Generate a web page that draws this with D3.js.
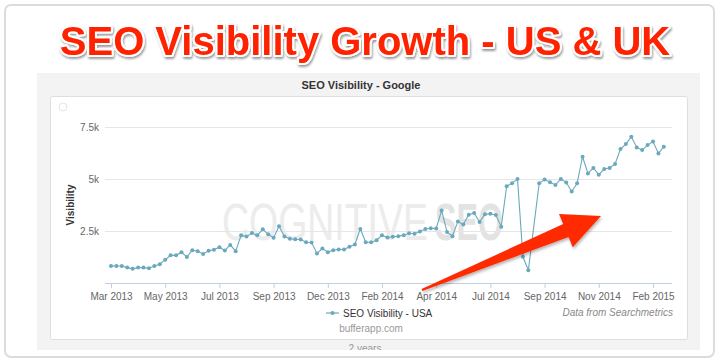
<!DOCTYPE html>
<html><head><meta charset="utf-8">
<script src="https://cdn.jsdelivr.net/npm/d3@7"></script>
<style>
html,body{margin:0;padding:0;background:#fff;}
svg{display:block;font-family:"Liberation Sans",Arial,Helvetica,sans-serif;}
</style></head><body>
<svg id="c" width="720" height="360"></svg>
<script>
// ---------- data ----------
const titleText = "SEO Visibility Growth - US & UK";
const chartTitle = "SEO Visibility - Google";
const seriesName = "SEO Visibility - USA";
const yAxisTitle = "Visibility";
const yTicks = [2500, 5000, 7500];
const yTickLabels = ["2.5k", "5k", "7.5k"];
const xTickIndex = [0, 10, 20, 30, 40, 50, 60, 70, 80, 90, 100];
const xTickLabels = ["Mar 2013", "May 2013", "Jul 2013", "Sep 2013", "Dec 2013", "Feb 2014",
                     "Apr 2014", "Jul 2014", "Sep 2014", "Nov 2014", "Feb 2015"];
// weekly values; null = week without a data point (line joins across it)
const visibilityUSA = [
  820, 820, 820, 740, 680, 740, 740, 710, 820, 900,
  1120, 1330, 1330, 1480, 1250, 1580, 1530, 1400, 1545, 1600,
  1720, 1560, 1830, 1530, 2290, 2230, 2400, 2290, 2580, 2340,
  2180, 2725, 2230, 2130, 2100, 2090, 1960, 1950, 1420, 1660,
  1480, 1580, 1610, 1610, 1740, 1850, 2600, 1960, 1960, 2060,
  2300, 2190, 2220, 2250, 2300, 2390, 2370, 2480, 2600, 2630,
  2620, 3490, 2450, 2250, 2960, 2810, 3280, 3360, 2930, 3310,
  3330, 3270, 2710, 4650, 4800, 5000, 1260, 610, null, 4795,
  4970, 4840, 4716, 5000, 4830, 4400, 4795, 6070, 5270, 5530,
  5210, 5480, 5530, 5720, 6440, 6680, 7030, 6520, 6390, 6630,
  6800, 6230, 6550
];
const footerSource = "Data from Searchmetrics";
const footerSite = "bufferapp.com";
const footerRange = "2 years";
const watermarkA = "COGNITIVE";
const watermarkB = "SEO";

// ---------- drawing ----------
const svg = d3.select("#c");
const defs = svg.append("defs");
const f1 = defs.append("filter").attr("id", "tshadow").attr("x", "-10%").attr("y", "-30%").attr("width", "120%").attr("height", "170%");
f1.append("feDropShadow").attr("dx", 1).attr("dy", 2).attr("stdDeviation", 1.3).attr("flood-color", "#000").attr("flood-opacity", 0.4);
const f2 = defs.append("filter").attr("id", "ashadow").attr("x", "-10%").attr("y", "-30%").attr("width", "120%").attr("height", "170%");
f2.append("feDropShadow").attr("dx", 1).attr("dy", 2).attr("stdDeviation", 1.5).attr("flood-color", "#000").attr("flood-opacity", 0.3);
defs.append("clipPath").attr("id", "panelclip").append("rect").attr("x", 37).attr("y", 73).attr("width", 663).attr("height", 277);

// outer frame
svg.append("rect").attr("x", 5).attr("y", 5).attr("width", 709).attr("height", 352).attr("rx", 6)
  .attr("fill", "#fff").attr("stroke", "#dcdcdc").attr("stroke-width", 2);

// grey panel
svg.append("rect").attr("x", 37).attr("y", 73).attr("width", 663).attr("height", 277).attr("fill", "#f3f3f3");

// chart title
svg.append("text").attr("x", 361).attr("y", 89).attr("text-anchor", "middle")
  .attr("font-size", 11).attr("font-weight", "bold").attr("fill", "#333").text(chartTitle);

// white chart box
svg.append("rect").attr("x", 50.5).attr("y", 96.5).attr("width", 637).attr("height", 243).attr("rx", 2)
  .attr("fill", "#fff").attr("stroke", "#dedede");

// range text, clipped by panel
svg.append("text").attr("x", 365).attr("y", 352).attr("text-anchor", "middle").attr("clip-path", "url(#panelclip)")
  .attr("font-size", 10).attr("fill", "#999").text(footerRange);

// small circle top-left
svg.append("circle").attr("cx", 63).attr("cy", 107).attr("r", 4).attr("fill", "#fff").attr("stroke", "#e4e4e4");

// watermark (two condensed parts)
svg.append("g").attr("transform", "translate(222,240) scale(0.72,1)")
  .append("text").attr("font-size", 52).attr("fill", "#ececec").text(watermarkA);
svg.append("g").attr("transform", "translate(435,240) scale(0.62,1)")
  .append("text").attr("font-size", 52).attr("font-weight", "bold").attr("fill", "#e3e3e3").text(watermarkB);

// scales
const x = d3.scaleLinear().domain([0, visibilityUSA.length - 1]).range([111, 111 + 5.42 * (visibilityUSA.length - 1)]);
const y = d3.scaleLinear().domain([0, 7500]).range([283, 127]);
const plotL = 105, plotR = 672;

// gridlines + y labels
const yAxis = d3.axisLeft(y).tickValues(yTicks).tickFormat((d, i) => yTickLabels[i]).tickSize(0).tickPadding(0);
const yg = svg.append("g").attr("transform", `translate(${plotL},0)`).call(yAxis);
yg.select(".domain").remove();
yg.selectAll(".tick line").attr("x1", 0).attr("x2", plotR - plotL).attr("stroke", "#e6e6e6");
yg.selectAll(".tick text").attr("x", -6).attr("dy", "0.32em").attr("fill", "#666").attr("font-size", 10)
  .attr("font-family", "Liberation Sans, Arial, sans-serif");

// y title
svg.append("text").attr("transform", "translate(74,205) rotate(-90)").attr("text-anchor", "middle")
  .attr("font-size", 10).attr("font-weight", "bold").attr("fill", "#333").text(yAxisTitle);

// x axis
const xAxis = d3.axisBottom(x).tickValues(xTickIndex).tickFormat((d, i) => xTickLabels[i]).tickSize(5).tickPadding(5).tickSizeOuter(0);
const xg = svg.append("g").attr("transform", "translate(0,283)").call(xAxis);
xg.select(".domain").remove();
xg.insert("line", ":first-child").attr("x1", plotL).attr("x2", plotR).attr("y1", 0.5).attr("y2", 0.5).attr("stroke", "#c0d0e0");
xg.selectAll(".tick line").attr("stroke", "#c0d0e0");
xg.selectAll(".tick text").attr("fill", "#666").attr("font-size", 10).attr("font-family", "Liberation Sans, Arial, sans-serif");

// series line + markers
const lineColor = "#6aa9bd";
const pts = visibilityUSA.map((v, i) => ({ i, v })).filter(d => d.v !== null);
const line = d3.line().x(d => x(d.i)).y(d => y(d.v));
svg.append("path").datum(pts).attr("d", line).attr("fill", "none").attr("stroke", lineColor).attr("stroke-width", 1.1);
svg.append("g").selectAll("circle").data(pts).join("circle")
  .attr("cx", d => x(d.i)).attr("cy", d => y(d.v)).attr("r", 2).attr("fill", lineColor);

// legend
const lg = svg.append("g").attr("transform", "translate(326,313)");
lg.append("line").attr("x1", 0).attr("x2", 13).attr("y1", 0).attr("y2", 0).attr("stroke", lineColor).attr("stroke-width", 1.2);
lg.append("circle").attr("cx", 6.5).attr("cy", 0).attr("r", 2).attr("fill", lineColor);
lg.append("text").attr("x", 17).attr("y", 3.5).attr("font-size", 10).attr("fill", "#333").text(seriesName);

// footers
svg.append("text").attr("x", 673).attr("y", 316).attr("text-anchor", "end").attr("font-size", 10)
  .attr("font-style", "italic").attr("fill", "#888").text(footerSource);
svg.append("text").attr("x", 371).attr("y", 332).attr("text-anchor", "middle").attr("font-size", 10)
  .attr("fill", "#999").text(footerSite);

// red arrow annotation
(function () {
  const T = [422, 290], P = [601, 216];
  const dx = P[0] - T[0], dy = P[1] - T[1], L = Math.hypot(dx, dy);
  const u = [dx / L, dy / L], n = [-u[1], u[0]];
  const headLen = 38, headHalf = 18, shaftHalf = 7, tailHalf = 1;
  const B = [P[0] - u[0] * headLen, P[1] - u[1] * headLen];
  const pt = (c, s) => [c[0] + n[0] * s, c[1] + n[1] * s];
  const p = [pt(T, -tailHalf), pt(B, -shaftHalf), pt(B, -headHalf), P, pt(B, headHalf), pt(B, shaftHalf), pt(T, tailHalf)];
  svg.append("path").attr("d", "M" + p.map(q => q.join(",")).join("L") + "Z")
    .attr("fill", "#ff2a00").attr("filter", "url(#ashadow)");
})();

// main title
svg.append("text").attr("x", 365).attr("y", 55).attr("text-anchor", "middle")
  .attr("font-size", 40).attr("font-weight", "bold").attr("fill", "#ff2200")
  .attr("stroke", "#fff").attr("stroke-width", 4).attr("stroke-linejoin", "round")
  .attr("paint-order", "stroke").attr("filter", "url(#tshadow)").text(titleText);
</script>
</body></html>
